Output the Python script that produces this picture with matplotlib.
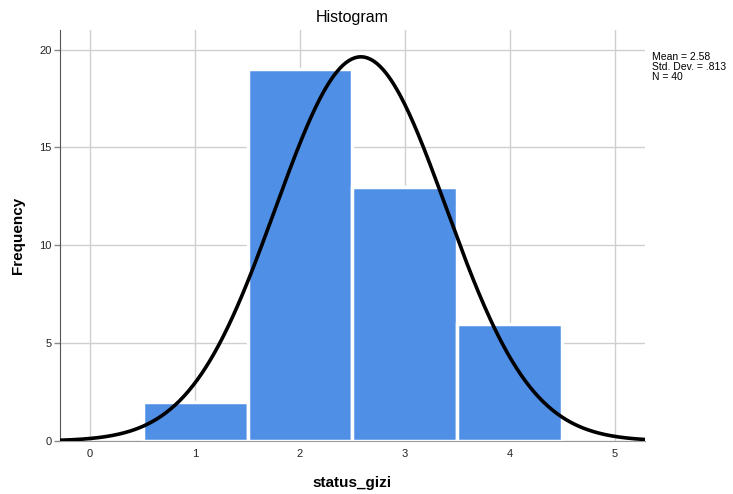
import numpy as np
import matplotlib
matplotlib.use("Agg")
import matplotlib.pyplot as plt

plt.rcParams['font.family'] = ['Liberation Sans', 'DejaVu Sans']

# status_gizi histogram data
bin_centers = [1, 2, 3, 4]
frequencies = [2, 19, 13, 6]
mean = 2.58
std_dev = 0.813
n = 40

fig = plt.figure(figsize=(7.33, 4.94), dpi=100)

ax = fig.add_axes([0.0819, 0.1073, 0.798, 0.832])

ax.bar(bin_centers, frequencies, width=1.0, color='#4f8fe6',
       edgecolor='white', linewidth=2.5, zorder=2)

x = np.linspace(-0.3, 5.3, 400)
pdf = n * 1.0 / (std_dev * np.sqrt(2 * np.pi)) * np.exp(-0.5 * ((x - mean) / std_dev) ** 2)
ax.plot(x, pdf, color='black', linewidth=2.6, zorder=3)

ax.set_xlim(-0.286, 5.286)
ax.set_ylim(0, 21.0)
ax.set_xticks([0, 1, 2, 3, 4, 5])
ax.set_yticks([0, 5, 10, 15, 20])
ax.grid(True, color='#cfcfcf', linewidth=1, zorder=0)
ax.set_axisbelow(True)

for s in ['top', 'right']:
    ax.spines[s].set_visible(False)
ax.spines['left'].set_color('#555555')
ax.spines['bottom'].set_color('#9a9a9a')
ax.tick_params(axis='x', length=0, pad=6, labelsize=8, colors='#222222')
ax.tick_params(axis='y', length=4, width=1, color='#888888', labelsize=8,
               colors='#222222', pad=2)

ax.set_title("Histogram", fontsize=11.5, pad=6)
ax.set_xlabel("status_gizi", fontsize=11, fontweight='bold', labelpad=12)
ax.set_ylabel("Frequency", fontsize=11, fontweight='bold', labelpad=10)

fig.text(0.889, 0.895, "Mean = %.2f\nStd. Dev. = .813\nN = %d" % (mean, n),
         fontsize=7.5, ha='left', va='top', linespacing=1.0)

fig.savefig("out.png", dpi=100)
